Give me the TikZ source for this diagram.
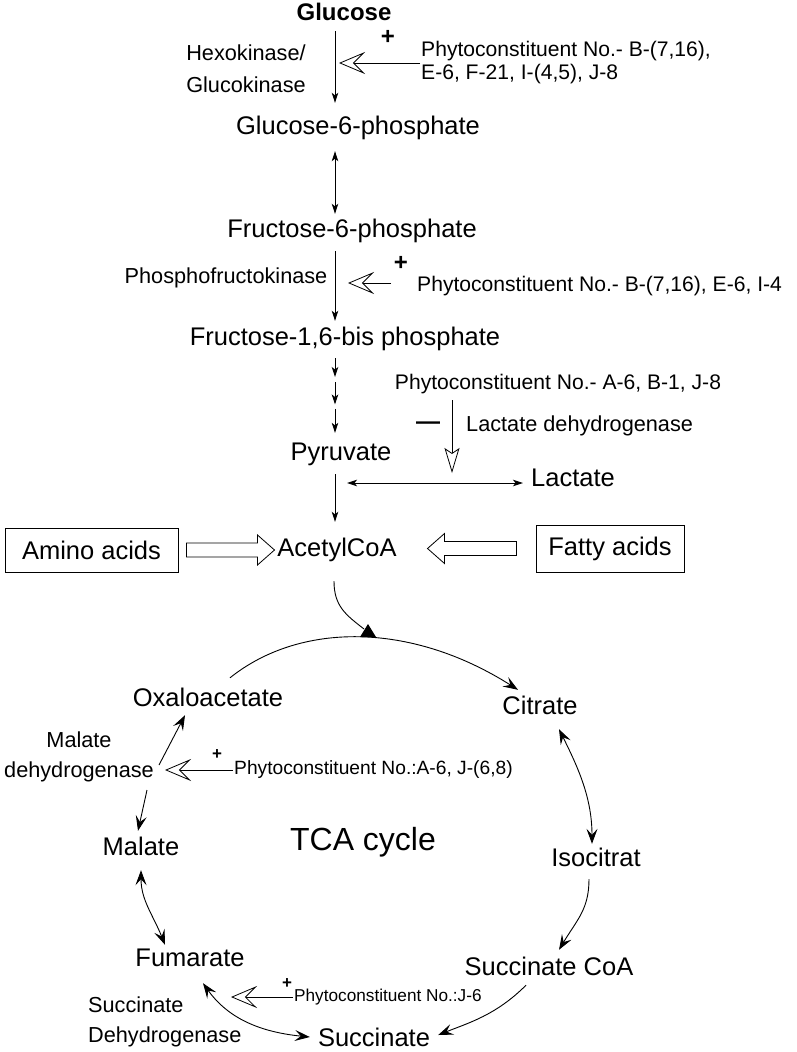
\documentclass[tikz,border=0pt]{standalone}
\usepackage{fontspec}
\setmainfont{Liberation Sans}
\usetikzlibrary{arrows.meta, positioning, calc}

\tikzset{
  metab/.style={inner sep=1pt, text height=18.5pt, text depth=5.5pt, font=\fontsize{25.5}{30}\selectfont},
  enzyme/.style={inner sep=1pt, align=center, font=\fontsize{21.7}{32}\selectfont},
  phyto/.style={inner sep=1pt, anchor=west, align=left, font=\fontsize{21.1}{23}\selectfont},
  sign/.style={inner sep=0pt, font=\fontsize{24}{24}\bfseries\selectfont},
  flow/.style={line width=0.9pt, -{Stealth[length=10pt, width=6.5pt, inset=2.5pt]}},
  flowboth/.style={line width=0.9pt, {Stealth[length=10pt, width=6.5pt, inset=2.5pt]}-{Stealth[length=10pt, width=6.5pt, inset=2.5pt]}},
  cyc/.style={line width=0.9pt, -{Stealth[length=15pt, width=11pt, inset=6pt]}},
  cycboth/.style={line width=0.9pt, {Stealth[length=15pt, width=11pt, inset=6pt]}-{Stealth[length=15pt, width=11pt, inset=6pt]}},
  stim/.style={line width=0.8pt, -{Stealth[open, length=26pt, width=22pt, inset=11pt]}},
  inhib/.style={line width=0.8pt, -{Stealth[open, length=25pt, width=15pt, inset=5pt]}},
  feeder/.style={draw, line width=1pt, minimum width=173pt, minimum height=44pt, inner sep=2pt, font=\fontsize{25.5}{30}\selectfont},
}

\begin{document}
\begin{tikzpicture}[x=1pt, y=-1pt]
        \useasboundingbox (0,0) rectangle (797,1052);
        \coordinate (axis) at (335,0);

        \node[metab, font=\fontsize{24}{28}\bfseries\selectfont] (glc) at (344,14) {Glucose};
        \node[metab] (g6p) at (358,128) {Glucose-6-phosphate};
        \node[metab] (f6p) at (352,231) {Fructose-6-phosphate};
        \node[metab] (f16bp) at (345,339) {Fructose-1,6-bis phosphate};
        \node[metab] (pyr) at (341,454) {Pyruvate};
        \node[metab, anchor=west] (lac) at (530,480) {Lactate};
        \node[metab] (acoa) at (337,550) {AcetylCoA};

        \node[enzyme] (hk) at (246,69) {Hexokinase/\\Glucokinase};
        \node[enzyme] (pfk) at (226,278) {Phosphofructokinase};
        \node[enzyme, anchor=west] (ldh) at (465,426) {Lactate dehydrogenase};

        \node[phyto] (ph1) at (420,63) {Phytoconstituent No.- B-(7,16),\\E-6, F-21, I-(4,5), J-8};
        \node[phyto] (ph2) at (416,286) {Phytoconstituent No.- B-(7,16), E-6, I-4};
        \node[phyto, anchor=center] (ph3) at (558,384) {Phytoconstituent No.- A-6, B-1, J-8};

        \node[sign] (p1) at (388,37) {+};
        \node[sign] (p2) at (401,263) {+};
        \node[sign] (m3) at (428,426) {—};

        \draw[flow, shorten <=4pt, shorten >=12pt] (glc.south -| axis) -- (g6p.north -| axis);
        \draw[flowboth, shorten <=10pt, shorten >=4pt] (g6p.south -| axis) -- (f6p.north -| axis);
        \draw[flow, shorten <=7pt, shorten >=5pt] (f6p.south -| axis) -- (f16bp.north -| axis);
        \foreach \a/\b in {0.07/0.28, 0.34/0.59, 0.64/0.91}
          \draw[flow] ($(f16bp.south -| axis)!\a!(pyr.north -| axis)$) -- ($(f16bp.south -| axis)!\b!(pyr.north -| axis)$);
        \draw[flow, shorten <=7pt, shorten >=15pt] (pyr.south -| axis) -- (acoa.north -| axis);
        \draw[flowboth] ($(lac.west -| axis)+(12,3)$) -- ($(lac.west)+(-7,3)$);

        \draw[stim] (ph1.west) -- ($(ph1.west -| axis)+(4,0)$);
        \draw[stim] ($(ph2.west)+(-25,-3)$) -- ($(ph2.west -| axis)+(13,-3)$);
        \draw[inhib] ($(ph3.south -| ldh.west)+(-13,5)$) -- ($(lac.west -| ldh.west)+(-13,-7)$);

        \node[feeder] (amino) at (91.5,550) {Amino acids};
        \node[feeder, minimum width=148pt, minimum height=47pt] (fatty) at (610,548.5) {Fatty acids};
        \draw[line width=0.8pt] ($(amino.east)+(8,0)$) ++(0,-7) -- ++(71,0) -- ++(0,-8) -- ++(17,15) -- ++(-17,15) -- ++(0,-8) -- ++(-71,0) -- cycle;
        \draw[line width=0.8pt] ($(fatty.west)+(-19,0)$) ++(0,-7) -- ++(-72,0) -- ++(0,-8) -- ++(-17,15) -- ++(17,15) -- ++(0,-8) -- ++(72,0) -- cycle;

        \node[metab] (oaa) at (208,700) {Oxaloacetate};
        \node[metab] (cit) at (540,708) {Citrate};
        \node[metab] (icit) at (596,860) {Isocitrat};
        \node[metab] (scoa) at (549,969) {Succinate CoA};
        \node[metab] (succ) at (374,1040) {Succinate};
        \node[metab] (fum) at (190,960) {Fumarate};
        \node[metab] (mal) at (141,849) {Malate};
        \node[metab, font=\fontsize{32}{36}\selectfont] (tca) at (363,844) {TCA cycle};

        \node[enzyme, font=\fontsize{21.7}{30}\selectfont] (mdh) at (79,757) {Malate\\dehydrogenase};
        \node[enzyme, align=left, anchor=west, font=\fontsize{21.7}{30}\selectfont] (sdh) at (87,1022) {Succinate\\Dehydrogenase};
        \node[phyto, font=\fontsize{19.2}{22}\selectfont] (ph4) at (233,770) {Phytoconstituent No.:A-6, J-(6,8)};
        \node[phyto, font=\fontsize{17.2}{20}\selectfont] (ph5) at (293,997) {Phytoconstituent No.:J-6};
        \node[sign, font=\fontsize{17}{17}\bfseries\selectfont] (p4) at (217,755) {+};
        \node[sign, font=\fontsize{17}{17}\bfseries\selectfont] (p5) at (287,984) {+};

        \coordinate (entry) at (368,637);
        \draw[line width=0.9pt] ($(acoa.south -| axis)+(-1,18)$) .. controls +(0,25) and +(-18,-14) .. ($(entry)+(-4,-8)$);
        \fill ($(entry)+(-8,0)$) -- ($(entry)+(0,-13)$) -- ($(entry)+(8,0)$) -- cycle;

        \draw[cyc] ($(oaa.north)+(22,-9)$) .. controls +(70,-56) and +(-107,-68) .. ($(cit.north)+(-22,-5)$);
        \draw[cycboth] ($(cit.south)+(19,8)$) .. controls +(20,40) and +(0,-45) .. ($(icit.north)+(-4,-3)$);
        \draw[cyc] ($(icit.south)+(-7,6)$) .. controls +(0,30) and +(18,-30) .. ($(scoa.north)+(10,-6)$);
        \draw[cyc] ($(scoa.south)+(-23,3)$) .. controls +(-30,30) and +(30,-12) .. ($(succ.east)+(7,-5)$);
        \draw[cycboth] ($(fum.south)+(13,10)$) .. controls +(25,35) and +(-50,-5) .. ($(succ.west)+(-7,-3)$);
        \draw[cycboth] ($(mal.south)+(0,8)$) .. controls +(0,30) and +(-12,-30) .. ($(fum.north)+(-25,-2)$);
        \draw[cyc] ($(mdh.east)+(4,8)$) -- ($(oaa.south)+(-23,2)$);
        \draw[cyc] ($(mdh.east)+(-8,33)$) -- ($(mal.north)+(-3,-5)$);
        \draw[stim] (ph4.west) -- ($(mdh.east |- ph4.west)+(10,0)$);
        \draw[stim] (ph5.west) -- ($(ph5.west)+(-62,0)$);
\end{tikzpicture}
\end{document}
